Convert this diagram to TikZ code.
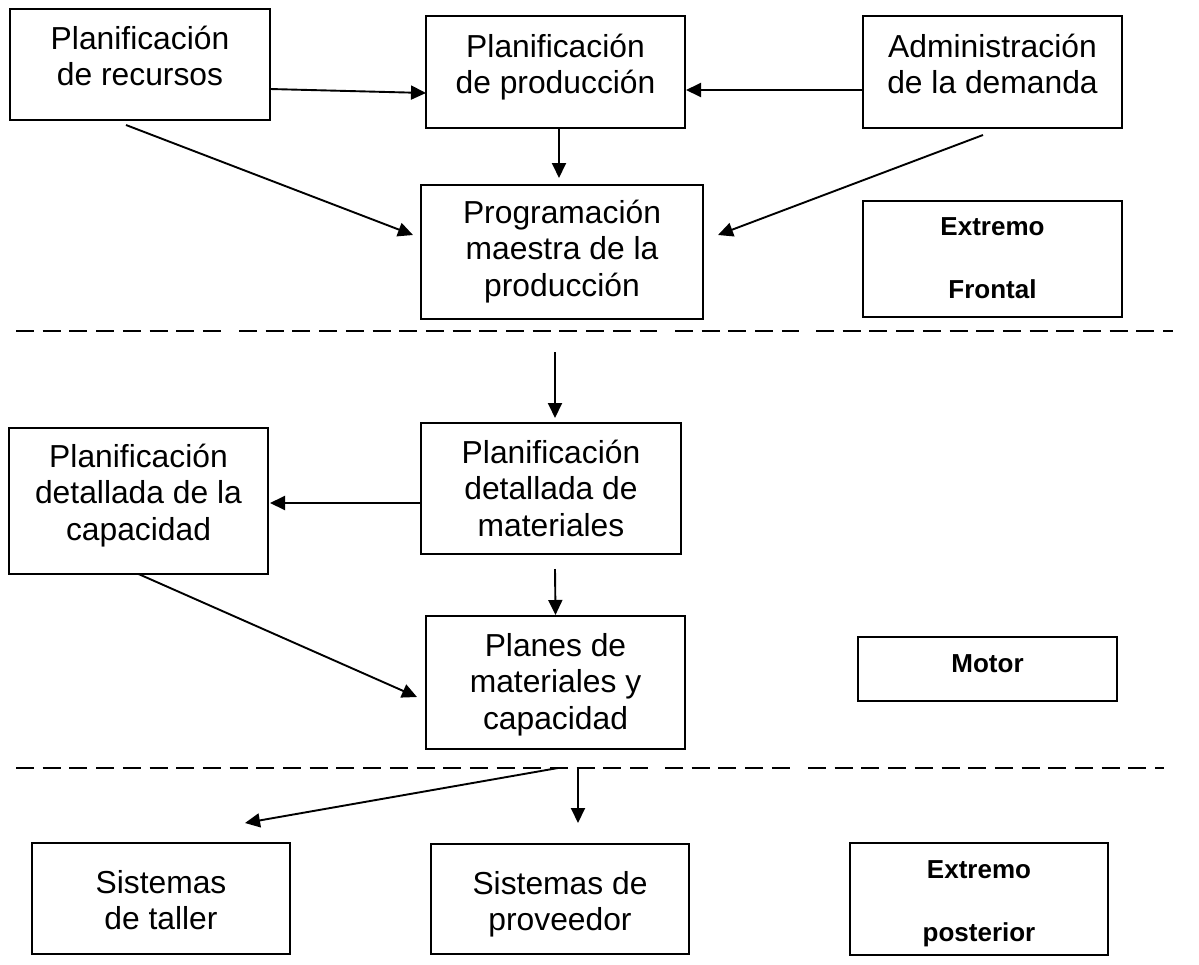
\documentclass[tikz,border=0pt]{standalone}
\usepackage{fontspec}
\setmainfont{Liberation Sans}
\usetikzlibrary{arrows.meta}
\begin{document}
\begin{tikzpicture}[x=1pt,y=-1pt,
  box/.style={draw, line width=1.8pt, inner sep=0pt, outer sep=0pt},
  txt/.style={anchor=north, inner sep=0pt, align=center, font=\fontsize{31.8pt}{36.5pt}\selectfont},
  btxt/.style={anchor=north, inner sep=0pt, align=center, font=\fontsize{26pt}{63pt}\selectfont\bfseries},
  conn/.style={line width=1.9pt, -{Triangle[length=15pt,width=14pt]}},
  sepline/.style={line width=1.7pt, dash pattern=on 18pt off 8.7pt}]
\useasboundingbox (0,0) rectangle (1199,964);
% boxes
\node[box, minimum width=260pt, minimum height=111pt] (b1) at (140,64.5) {};
\node[box, minimum width=259pt, minimum height=112pt] (b2) at (555.5,72) {};
\node[box, minimum width=259pt, minimum height=112pt] (b3) at (992.5,72) {};
\node[box, minimum width=282pt, minimum height=134pt] (prog) at (562,252) {};
\node[box, minimum width=259pt, minimum height=116pt] (ef) at (992.5,259) {};
\node[box, minimum width=260pt, minimum height=131pt] (mat) at (551,488.5) {};
\node[box, minimum width=259pt, minimum height=146pt] (cap) at (138.5,501) {};
\node[box, minimum width=259pt, minimum height=133pt] (plan) at (555.5,682.5) {};
\node[box, minimum width=259pt, minimum height=64pt] (mot) at (987.5,669) {};
\node[box, minimum width=258pt, minimum height=111pt] (tal) at (161,898.5) {};
\node[box, minimum width=258pt, minimum height=110pt] (prov) at (560,899) {};
\node[box, minimum width=258pt, minimum height=112pt] (ep) at (979,899) {};
% texts
\node[txt] (t1) at ([yshift=-8pt]b1.north) {\rule{0pt}{32pt}Planificación\\de recursos};
\node[txt] (t2) at ([yshift=-9pt]b2.north) {\rule{0pt}{32pt}Planificación\\de producción};
\node[txt] (t3) at ([yshift=-9pt]b3.north) {\rule{0pt}{32pt}Administración\\de la demanda};
\node[txt] (tp) at ([yshift=-6pt]prog.north) {\rule{0pt}{32pt}Programación\\maestra de la\\producción};
\node[btxt] (tef) at ([yshift=-8pt]ef.north) {\rule{0pt}{26pt}Extremo\\Frontal};
\node[txt] (tm) at ([yshift=-8pt]mat.north) {\rule{0pt}{32pt}Planificación\\detallada de\\materiales};
\node[txt] (tc) at ([yshift=-7pt]cap.north) {\rule{0pt}{32pt}Planificación\\detallada de la\\capacidad};
\node[txt] (tpl) at ([yshift=-8pt]plan.north) {\rule{0pt}{32pt}Planes de\\materiales y\\capacidad};
\node[btxt] (tmo) at ([yshift=-9pt]mot.north) {\rule{0pt}{26pt}Motor};
\node[txt] (tt) at ([yshift=-18pt]tal.north) {\rule{0pt}{32pt}Sistemas\\de taller};
\node[txt] (tpr) at ([yshift=-18pt]prov.north) {\rule{0pt}{32pt}Sistemas de\\proveedor};
\node[btxt] (tep) at ([yshift=-9pt]ep.north) {\rule{0pt}{26pt}Extremo\\posterior};
% separators (drawn as several dashed runs, as in the reference)
\coordinate (d1a) at (16,331);   \coordinate (d1b) at (222,331);
\coordinate (d1c) at (239,331);  \coordinate (d1d) at (657,331);
\coordinate (d1e) at (675,331);  \coordinate (d1f) at (799,331);
\coordinate (d1g) at (816,331);  \coordinate (d1h) at (1173,331);
\draw[sepline] (d1a) -- (d1b);
\draw[sepline] (d1c) -- (d1d);
\draw[sepline] (d1e) -- (d1f);
\draw[sepline] (d1g) -- (d1h);
\coordinate (d2a) at (16,768);   \coordinate (d2b) at (648,768);
\coordinate (d2c) at (665,768);  \coordinate (d2d) at (790,768);
\coordinate (d2e) at (808,768);  \coordinate (d2f) at (1164,768);
\draw[sepline] (d2a) -- (d2b);
\draw[sepline] (d2c) -- (d2d);
\draw[sepline] (d2e) -- (d2f);
\coordinate (s1) at (555,352);
\coordinate (s2) at (558,768);
\coordinate (s3) at (578,768);
% connectors
\draw[conn] ([yshift=-24.5pt]b1.east) -- ([yshift=-21pt]b2.west);
\draw[conn] ([xshift=-14pt,yshift=-5pt]b1.south) -- ([xshift=-8pt,yshift=17pt]prog.west);
\draw[conn] ([xshift=3.5pt]b2.south) -- ([xshift=-3pt,yshift=7pt]prog.north);
\draw[conn] ([yshift=-18pt]b3.west) -- ([xshift=1pt,yshift=-18pt]b2.east);
\draw[conn] ([xshift=-9.5pt,yshift=-7pt]b3.south) -- ([xshift=15pt,yshift=17pt]prog.east);
\draw[conn] (s1) -- ([xshift=4pt,yshift=5pt]mat.north);
\draw[conn] ([yshift=-14.5pt]mat.west) -- ([xshift=2pt,yshift=-2pt]cap.east);
\draw[conn] ([xshift=4pt,yshift=-15pt]mat.south) -- ([yshift=1pt]plan.north);
\draw[conn] (cap.south) -- ([xshift=-9pt,yshift=-14.5pt]plan.west);
\draw[conn] (s2) -- ([xshift=84pt,yshift=20pt]tal.north);
\draw[conn] (s3) -- ([xshift=18pt,yshift=21pt]prov.north);
\end{tikzpicture}
\end{document}
